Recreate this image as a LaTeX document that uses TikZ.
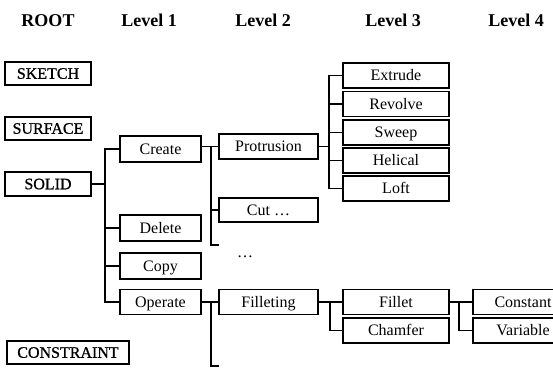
\documentclass[tikz,border=0pt]{standalone}
\usepackage{fontspec}
\setmainfont{Liberation Serif}
\newfontface\rootface[FakeBold=0.9]{Liberation Serif}
\begin{document}
\begin{tikzpicture}[x=1pt,y=-1pt,
  line width=1.1pt,
  head/.style={font=\fontsize{18}{18}\selectfont\bfseries, anchor=base, inner sep=0pt},
  box/.style={draw, rectangle, inner sep=0pt, minimum height=25pt,
    text height=10.5pt, text depth=0pt, font=\fontsize{16}{16}\selectfont},
  rootbox/.style={box, minimum width=86pt, minimum height=23pt,
    font=\fontsize{16}{16}\rootface},
  lvone/.style={box, minimum width=81pt},
  lvtwo/.style={box, minimum width=99pt},
  lvthree/.style={box, minimum width=106pt},
  lvfour/.style={box, minimum width=100pt}]
\useasboundingbox (0,0) rectangle (553,369);
\clip (0,0) rectangle (553,369);

% column headings
\node[head] (hroot) at (48,27) {ROOT};
\node[head] (hone) at (149,27) {Level 1};
\node[head] (htwo) at (263,27) {Level 2};
\node[head] (hthree) at (393,27) {Level 3};
\node[head] (hfour) at (516,27) {Level 4};

% root entries
\node[rootbox] (sketch) at (48,73.5) {SKETCH};
\node[rootbox] (surface) at (48,128.5) {SURFACE};
\node[rootbox, minimum height=24pt] (solid) at (48,184) {SOLID};
\node[rootbox, minimum width=122pt] (constraint) at (68,352.5) {CONSTRAINT};

% level 1
\node[lvone, minimum height=26pt] (create) at (160.5,149) {Create};
\node[lvone, minimum height=26pt] (delete) at (160.5,228) {Delete};
\node[lvone, minimum height=26pt] (copy) at (160.5,266) {Copy};
\node[lvone] (operate) at (160.5,302) {Operate};

% level 2
\node[lvtwo] (protrusion) at (268.5,146.5) {Protrusion};
\node[lvtwo, minimum height=24pt] (cut) at (268.5,210) {Cut \ldots};
\node[inner sep=0pt, font=\fontsize{16}{16}\selectfont] (more) at (245,257) {\ldots};
\node[lvtwo] (filleting) at (268.5,302) {Filleting};

% level 3
\node[lvthree] (extrude) at (396,75.5) {Extrude};
\node[lvthree] (revolve) at (396,104) {Revolve};
\node[lvthree] (sweep) at (396,132.5) {Sweep};
\node[lvthree] (helical) at (396,160.5) {Helical};
\node[lvthree] (loft) at (396,188.5) {Loft};
\node[lvthree] (fillet) at (396,302) {Fillet};
\node[lvthree] (chamfer) at (396,330.5) {Chamfer};

% level 4 (runs past the right edge)
\node[lvfour] (constant) at (523,302) {Constant};
\node[lvfour] (variable) at (523,330.5) {Variable};

% bus lines
\coordinate (b1) at (105,0);
\coordinate (b2) at (211,0);
\coordinate (b3) at (329,0);
\coordinate (b4) at (330,0);
\coordinate (b5) at (459,0);
\coordinate (e2) at (219,245);
\coordinate (e3) at (219,366);

% SOLID -> level 1
\draw (solid.east) -- (solid.east -| b1);
\draw (create.west) -- (create.west -| b1) -- (operate.west -| b1) -- (operate.west);
\draw (delete.west) -- (delete.west -| b1);
\draw (copy.west) -- (copy.west -| b1);

% Create -> level 2
\draw (create.east |- protrusion.west) -- (protrusion.west);
\draw (protrusion.west -| b2) |- (e2);
\draw (cut.west) -- (cut.west -| b2);

% Operate -> level 2
\draw (operate.east) -- (filleting.west);
\draw (filleting.west -| b2) |- (e3);

% Protrusion -> level 3
\draw (protrusion.east) -- (protrusion.east -| b3);
\draw (extrude.west) -- (extrude.west -| b3) -- (loft.west -| b3) -- (loft.west);
\draw (revolve.west) -- (revolve.west -| b3);
\draw (sweep.west) -- (sweep.west -| b3);
\draw (helical.west) -- (helical.west -| b3);

% Filleting -> level 3
\draw (filleting.east) -- (fillet.west);
\draw (fillet.west -| b4) |- (chamfer.west);

% Fillet -> level 4
\draw (fillet.east) -- (constant.west);
\draw (constant.west -| b5) |- (variable.west);
\end{tikzpicture}
\end{document}
